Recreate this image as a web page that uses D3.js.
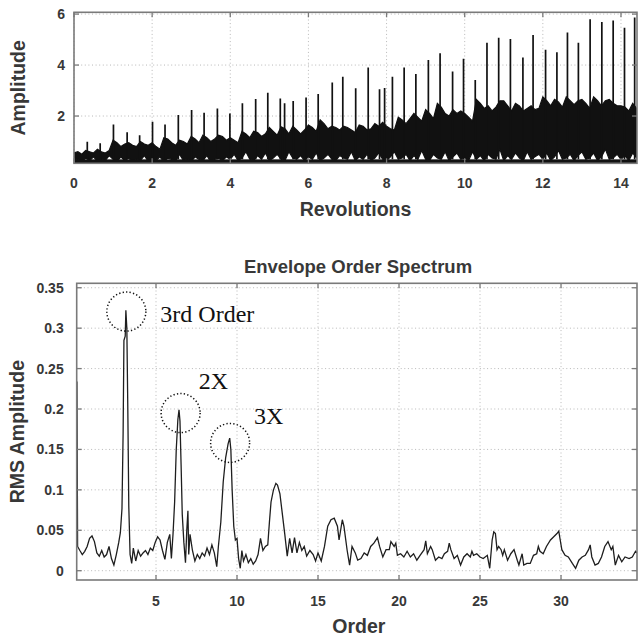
<!DOCTYPE html>
<html>
<head>
<meta charset="utf-8">
<script src="https://cdn.jsdelivr.net/npm/d3@7/dist/d3.min.js"></script>
<style>
body{margin:0;background:#fff}
text{font-family:"Liberation Sans",Arial,sans-serif}
.tk{font-size:14px;font-weight:bold;fill:#383838}
.lab{font-size:19.5px;font-weight:bold;fill:#383838}
.grid{stroke:#b8b8b8;stroke-width:1;stroke-dasharray:1,2.6}
.ann{font-family:"Liberation Serif","Times New Roman",serif;font-size:24px;fill:#111}
</style>
</head>
<body>
<div id="app"></div>
<script>
// ---- top plot: envelope of the dense signal (every 0.1 rev) + the big spikes
var bandStep = 0.1
var bandHi = [
 0.55,0.6,0.5,0.65,0.6,0.55,0.7,0.6,0.55,0.65,
 1.05,0.95,0.8,0.9,0.95,0.85,0.8,1.0,0.9,0.85,
 0.95,0.8,0.7,1.15,1.1,0.95,0.85,1.05,1.0,0.9,
 1.2,1.1,0.95,1.25,1.15,1.0,1.1,1.25,1.2,1.05,
 1.15,1.05,0.95,1.4,1.3,1.15,1.4,1.35,1.2,1.3,
 1.55,1.4,1.25,1.58,1.5,1.3,1.6,1.45,1.3,1.45,
 1.65,1.55,1.4,1.85,1.7,1.5,1.6,1.55,1.45,1.6,
 1.55,1.45,1.35,1.65,1.6,1.45,1.5,1.7,1.6,1.75,
 1.6,1.5,1.45,1.95,1.85,1.7,1.9,2.1,1.95,1.8,
 2.25,2.1,1.9,2.5,2.35,2.1,2.0,2.25,2.1,2.2,
 2.1,1.95,1.8,2.65,2.5,2.3,2.4,2.2,2.35,2.6,
 2.6,2.4,2.2,2.5,2.4,2.2,2.3,2.4,2.25,2.3,
 2.75,2.6,2.4,2.65,2.55,2.35,2.75,2.6,2.45,2.6,
 2.65,2.5,2.3,2.75,2.6,2.4,2.6,2.65,2.5,2.4,
 2.4,2.35,2.2,2.5,2.3,2.2]
var bandLo = [
 0.25,0.3,0.2,0.35,0.25,0.4,0.22,0.3,0.25,0.45,
 0.3,0.22,0.4,0.25,0.35,0.2,0.3,0.25,0.45,0.22,
 0.3,0.25,0.4,0.2,0.35,0.3,0.22,0.5,0.25,0.3,
 0.22,0.4,0.3,0.25,0.45,0.2,0.3,0.35,0.25,0.4,
 0.3,0.5,0.25,0.35,0.6,0.3,0.25,0.45,0.3,0.55,
 0.25,0.35,0.5,0.3,0.25,0.6,0.35,0.3,0.45,0.25,
 0.4,0.3,0.55,0.25,0.35,0.5,0.3,0.25,0.45,0.35,
 0.3,0.6,0.25,0.4,0.3,0.5,0.25,0.35,0.55,0.3,
 0.25,0.4,0.6,0.3,0.35,0.5,0.25,0.45,0.3,0.65,
 0.3,0.25,0.5,0.35,0.3,0.6,0.25,0.4,0.55,0.3,
 0.35,0.25,0.6,0.3,0.45,0.25,0.5,0.35,0.3,0.7,
 0.25,0.45,0.3,0.55,0.35,0.25,0.6,0.3,0.4,0.5,
 0.3,0.55,0.25,0.4,0.65,0.3,0.35,0.5,0.25,0.45,
 0.6,0.3,0.35,0.55,0.25,0.4,0.7,0.3,0.35,0.5,
 0.3,0.45,0.25,0.55,0.35,0.3]
var spikeRev = [0.34,0.67,1.01,1.36,1.68,2.01,2.33,2.67,3.01,3.33,3.67,3.99,4.31,4.65,4.96,5.28,5.39,5.61,5.94,6.25,
 6.61,6.88,7.21,7.53,7.82,7.95,8.15,8.45,8.75,9.07,9.37,9.69,9.97,10.27,10.57,10.87,11.17,11.49,11.75,12.07,
 12.36,12.63,12.91,13.21,13.51,13.8,14.09,14.35]
var spikeAmp = [0.99,0.93,1.67,1.36,1.25,1.78,1.67,2.04,2.24,2.13,2.3,2.1,2.5,2.67,2.91,2.69,2.5,2.59,2.73,2.86,
 3.32,3.54,3.09,3.9,3.05,3.1,3.54,3.9,3.65,4.2,4.46,3.75,4.25,3.41,4.88,5.07,5.02,4.3,5.18,4.6,
 4.5,5.28,4.88,5.8,5.69,5.75,5.46,5.87]
var revTicks = [0,2,4,6,8,10,12,14]
var ampTicks = [2,4,6]

// ---- bottom plot: envelope order spectrum
var specOrder = [0.12,0.16,0.3,0.45,0.6,0.75,0.9,1.05,1.2,1.35,1.5,1.65,1.8,1.95,2.1,2.25,2.4,2.55,2.7,2.8,2.9,2.97,3.02,3.1,3.14,3.2,3.26,3.32,3.4,3.5,
 3.6,3.75,3.9,4.05,4.2,4.35,4.5,4.65,4.8,4.95,5.1,5.25,5.4,5.55,5.7,5.85,5.95,6.05,6.15,6.25,6.35,6.42,6.48,6.55,6.62,6.72,6.82,6.9,6.97,7.02,
 7.1,7.25,7.4,7.55,7.7,7.85,8.0,8.15,8.3,8.45,8.6,8.75,8.85,9.0,9.15,9.3,9.45,9.55,9.62,9.7,9.8,9.9,10.0,10.1,10.2,10.3,10.4,10.55,10.7,10.85,
 11.0,11.15,11.3,11.45,11.6,11.75,11.9,12.0,12.1,12.25,12.4,12.5,12.65,12.8,12.95,13.1,13.25,13.4,13.55,13.7,13.85,14.0,14.15,14.3,14.5,14.7,14.85,
 15.0,15.2,15.4,15.6,15.8,16.0,16.2,16.3,16.5,16.6,16.8,16.95,17.1,17.3,17.45,17.65,17.85,18.05,18.25,18.45,18.67,18.8,19.0,19.2,19.4,19.5,19.7,19.8,19.9,
 20.1,20.3,20.5,20.7,20.9,21.1,21.3,21.55,21.65,21.75,21.95,22.05,22.25,22.45,22.65,22.8,23.0,23.1,23.2,23.4,23.6,23.8,24.0,24.2,24.4,24.5,24.6,24.8,
 25.0,25.2,25.45,25.6,25.75,25.85,25.95,26.05,26.15,26.3,26.4,26.5,26.7,26.8,26.9,27.1,27.3,27.4,27.6,27.7,27.9,28.1,28.3,28.5,28.6,28.7,28.9,
 29.1,29.35,29.55,29.75,29.86,29.95,30.05,30.25,30.45,30.7,30.9,31.1,31.3,31.5,31.7,31.8,31.9,32.1,32.3,32.5,32.7,32.9,33.1,33.2,33.35,33.55,33.75,33.95,34.2,34.4,34.6,34.7]
var specRms = [0.234,0.03,0.025,0.02,0.024,0.03,0.04,0.043,0.036,0.022,0.018,0.025,0.017,0.02,0.03,0.015,0.007,0.02,0.035,0.047,0.077,0.17,0.285,0.29,0.322,0.3,0.2,0.08,0.02,0.009,
 0.028,0.012,0.025,0.018,0.022,0.025,0.02,0.028,0.025,0.035,0.042,0.038,0.025,0.014,0.035,0.045,0.015,0.045,0.085,0.15,0.187,0.199,0.185,0.13,0.07,0.035,0.01,0.05,0.074,0.02,
 0.045,0.025,0.012,0.02,0.015,0.022,0.018,0.028,0.02,0.032,0.022,0.005,0.03,0.06,0.11,0.14,0.157,0.164,0.15,0.1,0.055,0.038,0.04,0.015,0.003,0.025,0.012,0.02,0.01,0.015,
 0.008,0.012,0.02,0.04,0.025,0.03,0.032,0.06,0.085,0.1,0.108,0.106,0.095,0.07,0.045,0.018,0.04,0.022,0.041,0.022,0.035,0.025,0.03,0.018,0.025,0.02,0.012,
 0.022,0.012,0.03,0.055,0.063,0.065,0.055,0.038,0.063,0.055,0.025,0.007,0.03,0.022,0.013,0.015,0.022,0.019,0.03,0.034,0.041,0.03,0.017,0.026,0.026,0.036,0.03,0.034,0.019,
 0.021,0.017,0.024,0.017,0.021,0.013,0.019,0.026,0.037,0.021,0.03,0.026,0.013,0.017,0.015,0.021,0.024,0.034,0.026,0.015,0.019,0.007,0.017,0.021,0.017,0.024,0.019,0.021,
 0.017,0.015,0.019,0.003,0.038,0.048,0.046,0.026,0.03,0.026,0.019,0.026,0.013,0.017,0.021,0.026,0.013,0.007,0.021,0.007,0.009,0.009,0.019,0.021,0.03,0.024,0.021,
 0.03,0.038,0.042,0.046,0.049,0.038,0.026,0.019,0.017,0.009,0.003,0.013,0.017,0.019,0.026,0.032,0.017,0.007,0.009,0.017,0.03,0.036,0.026,0.03,0.007,0.019,0.011,0.017,0.015,0.017,0.024,0.022]
var orderTicks = [5,10,15,20,25,30]
var rmsTicks = [0,0.05,0.1,0.15,0.2,0.25,0.3,0.35]

var annOrder = [3.17,6.52,9.575]
var annRms = [0.3205,0.195,0.158]
var annText = ["3rd Order","2X","3X"]
var annDx = [34,18,24]
var annDy = [10,-24,-19]

var w = 638, h = 638
const svg = d3.select("#app").append("svg")
  .attr("width", w).attr("height", h)

const topBox = {l:74, r:637, t:12.3, b:163.3}
const botBox = {l:76.7, r:637, t:283.3, b:580}

const xTop = d3.scaleLinear().domain([0,14.41]).range([topBox.l, topBox.r])
const yTop = d3.scaleLinear().domain([0.145,6.07]).range([topBox.b, topBox.t])
const xBot = d3.scaleLinear().domain([0.105,34.69]).range([botBox.l, botBox.r])
const yBot = d3.scaleLinear().domain([-0.0115,0.3555]).range([botBox.b, botBox.t])

const defs = svg.append("defs")
function clip(id, b){
  defs.append("clipPath").attr("id", id).append("rect")
    .attr("x", b.l).attr("y", b.t).attr("width", b.r-b.l).attr("height", b.b-b.t)
}
clip("cTop", topBox)
clip("cBot", botBox)

function grid(b, x, y, xt, yt){
  const g = svg.append("g")
  g.selectAll(".gx").data(xt).enter().append("line").attr("class","grid")
    .attr("x1", d=>x(d)).attr("x2", d=>x(d)).attr("y1", b.t).attr("y2", b.b)
  g.selectAll(".gy").data(yt).enter().append("line").attr("class","grid")
    .attr("x1", b.l).attr("x2", b.r).attr("y1", d=>y(d)).attr("y2", d=>y(d))
}

function frame(b, x, y, xt, yt, fmt, xOff, yOff){
  const g = svg.append("g")
  const ax = "#7a7a7a"
  g.append("rect").attr("x", b.l).attr("y", b.t).attr("width", b.r-b.l).attr("height", b.b-b.t)
    .attr("fill","none").attr("stroke", ax).attr("stroke-width",1.6)
  xt.forEach(v=>{
    g.append("line").attr("x1",x(v)).attr("x2",x(v)).attr("y1",b.b).attr("y2",b.b-5).attr("stroke",ax).attr("stroke-width",1.3)
    g.append("line").attr("x1",x(v)).attr("x2",x(v)).attr("y1",b.t).attr("y2",b.t+5).attr("stroke",ax).attr("stroke-width",1.3)
    g.append("text").attr("class","tk").attr("x",x(v)).attr("y",b.b+xOff).attr("text-anchor","middle").text(v)
  })
  yt.forEach(v=>{
    g.append("line").attr("x1",b.l).attr("x2",b.l+5).attr("y1",y(v)).attr("y2",y(v)).attr("stroke",ax).attr("stroke-width",1.3)
    g.append("line").attr("x1",b.r).attr("x2",b.r-5).attr("y1",y(v)).attr("y2",y(v)).attr("stroke",ax).attr("stroke-width",1.3)
    g.append("text").attr("class","tk").attr("x",b.l-yOff).attr("y",y(v)).attr("dy","0.36em").attr("text-anchor","end").text(fmt(v))
  })
}

// top
grid(topBox, xTop, yTop, revTicks, ampTicks)
const topData = bandHi.map((d,i)=>({r:i*bandStep, hi:d, lo:bandLo[i]}))
const band = d3.area()
  .x(d=>xTop(d.r)).y0(d=>yTop(d.lo)).y1(d=>yTop(d.hi))
const gTop = svg.append("g").attr("clip-path","url(#cTop)")
gTop.append("path").datum(topData).attr("d", band).attr("fill","#111")
  .attr("stroke","#111").attr("stroke-width",1.2)
gTop.append("rect").attr("x",topBox.l).attr("width",topBox.r-topBox.l)
  .attr("y",yTop(0.3)).attr("height",topBox.b-yTop(0.3)).attr("fill","#111")
gTop.selectAll(".sp").data(spikeRev).enter().append("line")
  .attr("x1", d=>xTop(d)).attr("x2", d=>xTop(d))
  .attr("y1", yTop(0.3)).attr("y2", (d,i)=>yTop(spikeAmp[i]))
  .attr("stroke","#111").attr("stroke-width",1.7)
frame(topBox, xTop, yTop, revTicks, ampTicks, d=>d, 24.7, 9)
svg.append("text").attr("class","lab").attr("x",(topBox.l+topBox.r)/2).attr("y",216).attr("text-anchor","middle").text("Revolutions")
svg.append("text").attr("class","lab").attr("transform","translate(25,"+((topBox.t+topBox.b)/2)+") rotate(-90)").attr("text-anchor","middle").text("Amplitude")

// bottom
grid(botBox, xBot, yBot, orderTicks, rmsTicks)
const line = d3.line().x((d,i)=>xBot(specOrder[i])).y(d=>yBot(d))
svg.append("g").attr("clip-path","url(#cBot)").append("path").datum(specRms)
  .attr("d", line).attr("fill","none").attr("stroke","#1e1e1e").attr("stroke-width",1.3)
frame(botBox, xBot, yBot, orderTicks, rmsTicks, d=>d3.format("~g")(d), 25.5, 13)
svg.append("text").attr("class","lab").attr("x",(botBox.l+botBox.r)/2+2).attr("y",633).attr("text-anchor","middle").text("Order")
svg.append("text").attr("class","lab").attr("transform","translate(24,"+((botBox.t+botBox.b)/2)+") rotate(-90)").attr("text-anchor","middle").text("RMS Amplitude")
svg.append("text").attr("class","lab").style("font-size","18.5px").attr("x",358).attr("y",272.5).attr("text-anchor","middle").text("Envelope Order Spectrum")

// annotations
annOrder.forEach((o,i)=>{
  const cx = xBot(o), cy = yBot(annRms[i])
  svg.append("circle").attr("cx",cx).attr("cy",cy).attr("r",19.5)
    .attr("fill","none").attr("stroke","#111").attr("stroke-width",1.5).attr("stroke-dasharray","1.3,2.2")
  svg.append("text").attr("class","ann").attr("x",cx+annDx[i]).attr("y",cy+annDy[i]).text(annText[i])
})
</script>
</body>
</html>
